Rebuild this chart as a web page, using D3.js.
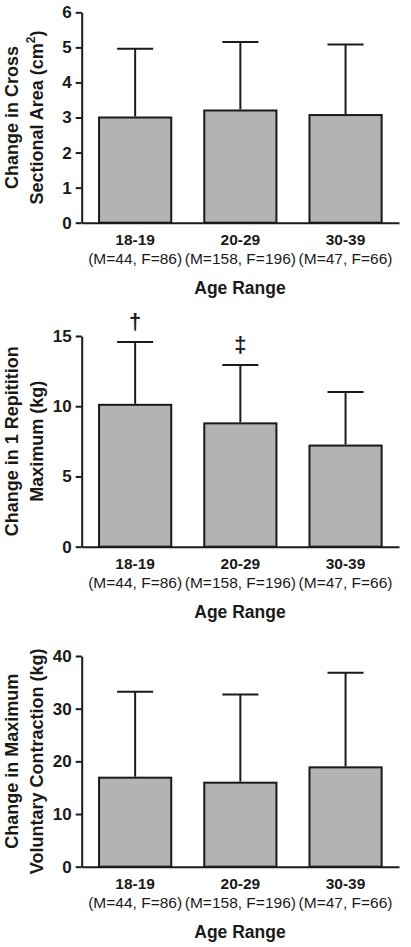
<!DOCTYPE html>
<html>
<head>
<meta charset="utf-8">
<script src="https://cdn.jsdelivr.net/npm/d3@7"></script>
<style>
  html, body { margin: 0; padding: 0; background: #fff; }
  svg { display: block; }
  text { font-family: "Liberation Sans", Arial, Helvetica, sans-serif; fill: #1a1a1a; }
</style>
</head>
<body>
<svg id="chart" width="411" height="947"></svg>
<script>
// ---- data ----
const categories = ["18-19", "20-29", "30-39"];
const sampleLabels = ["(M=44, F=86)", "(M=158, F=196)", "(M=47, F=66)"];
const xTitle = "Age Range";

const csaMeans = [3.0, 3.2, 3.07];
const csaUpper = [4.96, 5.15, 5.08];
const csaTicks = [0, 1, 2, 3, 4, 5, 6];

const rmMeans = [10.1, 8.78, 7.2];
const rmUpper = [14.57, 12.93, 11.01];
const rmTicks = [0, 5, 10, 15];
const rmMarks = ["†", "‡", ""];

const mvcMeans = [16.9, 15.95, 18.86];
const mvcUpper = [33.2, 32.7, 36.8];
const mvcTicks = [0, 10, 20, 30, 40];

const panels = [
  { means: csaMeans, upper: csaUpper, ticks: csaTicks, max: 6,
    title: [[{t: "Change in Cross"}], [{t: "Sectional Area (cm"}, {t: "2", sup: true}, {t: ")", after: true}]], marks: null,
    top: 12.3, bottom: 222.7 },
  { means: rmMeans, upper: rmUpper, ticks: rmTicks, max: 15,
    title: [[{t: "Change in 1 Repitition"}], [{t: "Maximum (kg)"}]], marks: rmMarks,
    top: 336, bottom: 546.7 },
  { means: mvcMeans, upper: mvcUpper, ticks: mvcTicks, max: 40,
    title: [[{t: "Change in Maximum"}], [{t: "Voluntary Contraction (kg)"}]], marks: null,
    top: 656, bottom: 866.7 }
];

const svg = d3.select("#chart");
const ink = "#1a1a1a";
const x = d3.scaleBand().domain(categories).range([81.7, 399]).paddingInner(0.314).paddingOuter(0.165);

panels.forEach(p => {
  const g = svg.append("g");
  const y = d3.scaleLinear().domain([0, p.max]).range([p.bottom, p.top]);

  // bars
  g.selectAll("rect.bar").data(categories).enter().append("rect")
    .attr("x", d => x(d))
    .attr("y", (d, i) => y(p.means[i]))
    .attr("width", x.bandwidth())
    .attr("height", (d, i) => y(0) - y(p.means[i]))
    .attr("fill", "#b3b3b3")
    .attr("stroke", ink)
    .attr("stroke-width", 2);

  // error bars
  const cx = d => x(d) + x.bandwidth() / 2;
  const capHalf = x.bandwidth() / 4;
  g.selectAll("line.err").data(categories).enter().append("line")
    .attr("x1", cx).attr("x2", cx)
    .attr("y1", (d, i) => y(p.means[i]) - 1)
    .attr("y2", (d, i) => y(p.upper[i]))
    .attr("stroke", ink).attr("stroke-width", 2);
  g.selectAll("line.cap").data(categories).enter().append("line")
    .attr("x1", d => cx(d) - capHalf).attr("x2", d => cx(d) + capHalf)
    .attr("y1", (d, i) => y(p.upper[i]))
    .attr("y2", (d, i) => y(p.upper[i]))
    .attr("stroke", ink).attr("stroke-width", 2);

  // significance marks
  if (p.marks) {
    g.selectAll("text.mark").data(categories).enter().append("text")
      .attr("x", cx)
      .attr("y", (d, i) => y(p.upper[i]) - 13)
      .attr("text-anchor", "middle")
      .style("font-size", "22px").style("font-weight", "bold")
      .text((d, i) => p.marks[i]);
  }

  // y axis
  const ya = g.append("g").attr("transform", "translate(81.7,0)")
    .call(d3.axisLeft(y).tickValues(p.ticks).tickSize(6).tickSizeOuter(0).tickPadding(4).tickFormat(d3.format("d")));
  ya.select(".domain").attr("stroke", ink).attr("stroke-width", 2);
  ya.selectAll(".tick line").attr("stroke", ink).attr("stroke-width", 2);
  ya.selectAll(".tick text").attr("fill", ink).style("font-size", "17px").style("font-weight", "bold")
    .style("font-family", "'Liberation Sans', Arial, sans-serif");

  // x axis
  const xa = g.append("g").attr("transform", `translate(0,${p.bottom})`)
    .call(d3.axisBottom(x).tickSize(0).tickSizeOuter(0).tickFormat(""));
  xa.select(".domain").attr("stroke", ink).attr("stroke-width", 2);

  // category labels
  g.selectAll("text.cat").data(categories).enter().append("text")
    .attr("x", cx).attr("y", p.bottom + 22)
    .attr("text-anchor", "middle")
    .style("font-size", "15.5px").style("font-weight", "bold")
    .text(d => d);
  g.selectAll("text.sub").data(categories).enter().append("text")
    .attr("x", cx).attr("y", p.bottom + 41)
    .attr("text-anchor", "middle")
    .style("font-size", "15.5px")
    .text((d, i) => sampleLabels[i]);
  g.append("text")
    .attr("x", 240).attr("y", p.bottom + 71)
    .attr("text-anchor", "middle")
    .style("font-size", "17.5px").style("font-weight", "bold")
    .text(xTitle);

  // y title
  const cy = (p.top + p.bottom) / 2;
  const baselines = [18, 43];
  p.title.forEach((parts, li) => {
    const t = g.append("text")
      .attr("transform", `translate(${baselines[li]},${cy}) rotate(-90)`)
      .attr("text-anchor", "middle")
      .style("font-size", "18px").style("font-weight", "bold");
    parts.forEach(part => {
      const ts = t.append("tspan").text(part.t);
      if (part.sup) ts.attr("dy", -8).style("font-size", "12px");
      if (part.after) ts.attr("dy", 8);
    });
  });
});
</script>
</body>
</html>
